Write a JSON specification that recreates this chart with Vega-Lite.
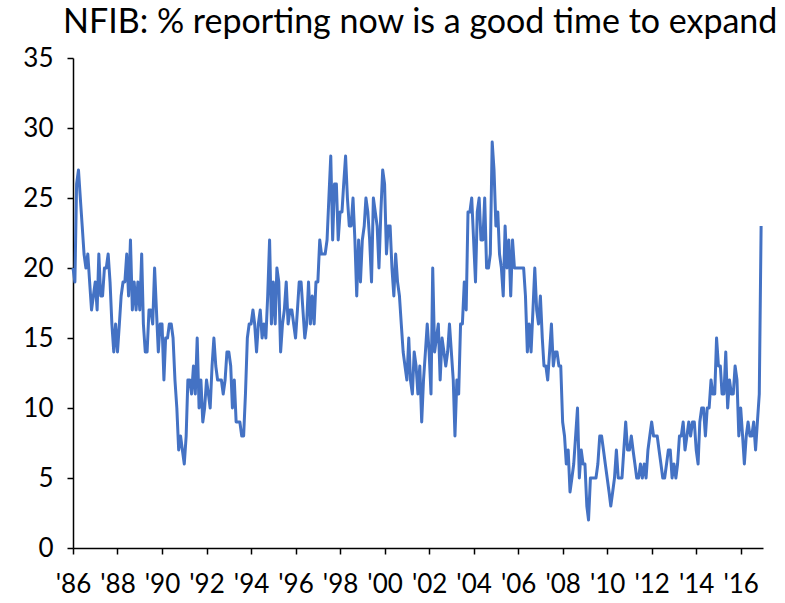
{
 "$schema": "https://vega.github.io/schema/vega-lite/v6.json",
 "width": 690, "height": 490,
 "autosize": "none",
 "padding": {"left": 73, "top": 58, "right": 22, "bottom": 55},
 "background": "white",
 "config": {"view": {"stroke": null}, "font": "Lato"},
 "title": {"text": "NFIB: % reporting now is a good time to expand", "anchor": "start", "frame": "group", "fontSize": 34, "fontWeight": "normal", "font": "Lato", "color": "black", "dx": -10, "offset": 5},
 "datasets": {"nfib": [
 {"date":"1986-01","v":20},{"date":"1986-02","v":19},{"date":"1986-03","v":26},{"date":"1986-04","v":27},{"date":"1986-05","v":25},{"date":"1986-06","v":23},{"date":"1986-07","v":21},{"date":"1986-08","v":20},{"date":"1986-09","v":21},{"date":"1986-10","v":19},{"date":"1986-11","v":17},{"date":"1986-12","v":18},
 {"date":"1987-01","v":19},{"date":"1987-02","v":17},{"date":"1987-03","v":21},{"date":"1987-04","v":18},{"date":"1987-05","v":18},{"date":"1987-06","v":20},{"date":"1987-07","v":20},{"date":"1987-08","v":21},{"date":"1987-09","v":19},{"date":"1987-10","v":16},{"date":"1987-11","v":14},{"date":"1987-12","v":16},
 {"date":"1988-01","v":14},{"date":"1988-02","v":16},{"date":"1988-03","v":18},{"date":"1988-04","v":19},{"date":"1988-05","v":19},{"date":"1988-06","v":21},{"date":"1988-07","v":18},{"date":"1988-08","v":22},{"date":"1988-09","v":17},{"date":"1988-10","v":19},{"date":"1988-11","v":17},{"date":"1988-12","v":19},
 {"date":"1989-01","v":17},{"date":"1989-02","v":21},{"date":"1989-03","v":16},{"date":"1989-04","v":14},{"date":"1989-05","v":14},{"date":"1989-06","v":17},{"date":"1989-07","v":17},{"date":"1989-08","v":16},{"date":"1989-09","v":20},{"date":"1989-10","v":17},{"date":"1989-11","v":14},{"date":"1989-12","v":16},
 {"date":"1990-01","v":16},{"date":"1990-02","v":12},{"date":"1990-03","v":15},{"date":"1990-04","v":15},{"date":"1990-05","v":16},{"date":"1990-06","v":16},{"date":"1990-07","v":15},{"date":"1990-08","v":12},{"date":"1990-09","v":10},{"date":"1990-10","v":7},{"date":"1990-11","v":8},{"date":"1990-12","v":7},
 {"date":"1991-01","v":6},{"date":"1991-02","v":8},{"date":"1991-03","v":12},{"date":"1991-04","v":12},{"date":"1991-05","v":11},{"date":"1991-06","v":13},{"date":"1991-07","v":11},{"date":"1991-08","v":15},{"date":"1991-09","v":10},{"date":"1991-10","v":12},{"date":"1991-11","v":9},{"date":"1991-12","v":10},
 {"date":"1992-01","v":12},{"date":"1992-02","v":11},{"date":"1992-03","v":10},{"date":"1992-04","v":13},{"date":"1992-05","v":15},{"date":"1992-06","v":13},{"date":"1992-07","v":12},{"date":"1992-08","v":12},{"date":"1992-09","v":12},{"date":"1992-10","v":11},{"date":"1992-11","v":12},{"date":"1992-12","v":14},
 {"date":"1993-01","v":14},{"date":"1993-02","v":13},{"date":"1993-03","v":10},{"date":"1993-04","v":12},{"date":"1993-05","v":9},{"date":"1993-06","v":9},{"date":"1993-07","v":9},{"date":"1993-08","v":8},{"date":"1993-09","v":8},{"date":"1993-10","v":11},{"date":"1993-11","v":15},{"date":"1993-12","v":16},
 {"date":"1994-01","v":16},{"date":"1994-02","v":17},{"date":"1994-03","v":16},{"date":"1994-04","v":14},{"date":"1994-05","v":16},{"date":"1994-06","v":17},{"date":"1994-07","v":15},{"date":"1994-08","v":16},{"date":"1994-09","v":15},{"date":"1994-10","v":18},{"date":"1994-11","v":22},{"date":"1994-12","v":16},
 {"date":"1995-01","v":19},{"date":"1995-02","v":16},{"date":"1995-03","v":20},{"date":"1995-04","v":19},{"date":"1995-05","v":14},{"date":"1995-06","v":16},{"date":"1995-07","v":17},{"date":"1995-08","v":19},{"date":"1995-09","v":16},{"date":"1995-10","v":17},{"date":"1995-11","v":17},{"date":"1995-12","v":16},
 {"date":"1996-01","v":15},{"date":"1996-02","v":17},{"date":"1996-03","v":19},{"date":"1996-04","v":19},{"date":"1996-05","v":17},{"date":"1996-06","v":15},{"date":"1996-07","v":16},{"date":"1996-08","v":19},{"date":"1996-09","v":16},{"date":"1996-10","v":18},{"date":"1996-11","v":16},{"date":"1996-12","v":19},
 {"date":"1997-01","v":19},{"date":"1997-02","v":22},{"date":"1997-03","v":21},{"date":"1997-04","v":21},{"date":"1997-05","v":21},{"date":"1997-06","v":22},{"date":"1997-07","v":25},{"date":"1997-08","v":28},{"date":"1997-09","v":22},{"date":"1997-10","v":26},{"date":"1997-11","v":26},{"date":"1997-12","v":22},
 {"date":"1998-01","v":24},{"date":"1998-02","v":24},{"date":"1998-03","v":26},{"date":"1998-04","v":28},{"date":"1998-05","v":25},{"date":"1998-06","v":23},{"date":"1998-07","v":23},{"date":"1998-08","v":25},{"date":"1998-09","v":22},{"date":"1998-10","v":18},{"date":"1998-11","v":22},{"date":"1998-12","v":19},
 {"date":"1999-01","v":22},{"date":"1999-02","v":23},{"date":"1999-03","v":25},{"date":"1999-04","v":24},{"date":"1999-05","v":22},{"date":"1999-06","v":19},{"date":"1999-07","v":25},{"date":"1999-08","v":24},{"date":"1999-09","v":23},{"date":"1999-10","v":20},{"date":"1999-11","v":24},{"date":"1999-12","v":27},
 {"date":"2000-01","v":26},{"date":"2000-02","v":21},{"date":"2000-03","v":23},{"date":"2000-04","v":23},{"date":"2000-05","v":20},{"date":"2000-06","v":18},{"date":"2000-07","v":21},{"date":"2000-08","v":19},{"date":"2000-09","v":18},{"date":"2000-10","v":16},{"date":"2000-11","v":14},{"date":"2000-12","v":13},
 {"date":"2001-01","v":12},{"date":"2001-02","v":15},{"date":"2001-03","v":12},{"date":"2001-04","v":11},{"date":"2001-05","v":14},{"date":"2001-06","v":13},{"date":"2001-07","v":11},{"date":"2001-08","v":13},{"date":"2001-09","v":9},{"date":"2001-10","v":12},{"date":"2001-11","v":14},{"date":"2001-12","v":16},
 {"date":"2002-01","v":14},{"date":"2002-02","v":11},{"date":"2002-03","v":20},{"date":"2002-04","v":14},{"date":"2002-05","v":15},{"date":"2002-06","v":16},{"date":"2002-07","v":12},{"date":"2002-08","v":15},{"date":"2002-09","v":14},{"date":"2002-10","v":13},{"date":"2002-11","v":14},{"date":"2002-12","v":16},
 {"date":"2003-01","v":14},{"date":"2003-02","v":12},{"date":"2003-03","v":8},{"date":"2003-04","v":12},{"date":"2003-05","v":11},{"date":"2003-06","v":16},{"date":"2003-07","v":16},{"date":"2003-08","v":19},{"date":"2003-09","v":17},{"date":"2003-10","v":24},{"date":"2003-11","v":24},{"date":"2003-12","v":25},
 {"date":"2004-01","v":22},{"date":"2004-02","v":19},{"date":"2004-03","v":24},{"date":"2004-04","v":25},{"date":"2004-05","v":22},{"date":"2004-06","v":22},{"date":"2004-07","v":25},{"date":"2004-08","v":20},{"date":"2004-09","v":20},{"date":"2004-10","v":21},{"date":"2004-11","v":29},{"date":"2004-12","v":27},
 {"date":"2005-01","v":23},{"date":"2005-02","v":24},{"date":"2005-03","v":21},{"date":"2005-04","v":20},{"date":"2005-05","v":18},{"date":"2005-06","v":23},{"date":"2005-07","v":20},{"date":"2005-08","v":22},{"date":"2005-09","v":18},{"date":"2005-10","v":22},{"date":"2005-11","v":20},{"date":"2005-12","v":20},
 {"date":"2006-01","v":20},{"date":"2006-02","v":20},{"date":"2006-03","v":20},{"date":"2006-04","v":20},{"date":"2006-05","v":18},{"date":"2006-06","v":14},{"date":"2006-07","v":16},{"date":"2006-08","v":14},{"date":"2006-09","v":17},{"date":"2006-10","v":20},{"date":"2006-11","v":17},{"date":"2006-12","v":16},
 {"date":"2007-01","v":18},{"date":"2007-02","v":15},{"date":"2007-03","v":13},{"date":"2007-04","v":13},{"date":"2007-05","v":12},{"date":"2007-06","v":14},{"date":"2007-07","v":16},{"date":"2007-08","v":13},{"date":"2007-09","v":14},{"date":"2007-10","v":14},{"date":"2007-11","v":13},{"date":"2007-12","v":13},
 {"date":"2008-01","v":9},{"date":"2008-02","v":8},{"date":"2008-03","v":6},{"date":"2008-04","v":7},{"date":"2008-05","v":4},{"date":"2008-06","v":5},{"date":"2008-07","v":6},{"date":"2008-08","v":8},{"date":"2008-09","v":10},{"date":"2008-10","v":5},{"date":"2008-11","v":7},{"date":"2008-12","v":6},
 {"date":"2009-01","v":6},{"date":"2009-02","v":3},{"date":"2009-03","v":2},{"date":"2009-04","v":5},{"date":"2009-05","v":5},{"date":"2009-06","v":5},{"date":"2009-07","v":5},{"date":"2009-08","v":6},{"date":"2009-09","v":8},{"date":"2009-10","v":8},{"date":"2009-11","v":7},{"date":"2009-12","v":6},
 {"date":"2010-01","v":5},{"date":"2010-02","v":4},{"date":"2010-03","v":3},{"date":"2010-04","v":4},{"date":"2010-05","v":5},{"date":"2010-06","v":7},{"date":"2010-07","v":5},{"date":"2010-08","v":5},{"date":"2010-09","v":5},{"date":"2010-10","v":7},{"date":"2010-11","v":9},{"date":"2010-12","v":7},
 {"date":"2011-01","v":7},{"date":"2011-02","v":8},{"date":"2011-03","v":7},{"date":"2011-04","v":6},{"date":"2011-05","v":5},{"date":"2011-06","v":5},{"date":"2011-07","v":6},{"date":"2011-08","v":5},{"date":"2011-09","v":6},{"date":"2011-10","v":5},{"date":"2011-11","v":7},{"date":"2011-12","v":8},
 {"date":"2012-01","v":9},{"date":"2012-02","v":8},{"date":"2012-03","v":8},{"date":"2012-04","v":8},{"date":"2012-05","v":7},{"date":"2012-06","v":6},{"date":"2012-07","v":5},{"date":"2012-08","v":5},{"date":"2012-09","v":6},{"date":"2012-10","v":7},{"date":"2012-11","v":7},{"date":"2012-12","v":5},
 {"date":"2013-01","v":6},{"date":"2013-02","v":5},{"date":"2013-03","v":6},{"date":"2013-04","v":8},{"date":"2013-05","v":8},{"date":"2013-06","v":9},{"date":"2013-07","v":7},{"date":"2013-08","v":8},{"date":"2013-09","v":9},{"date":"2013-10","v":8},{"date":"2013-11","v":9},{"date":"2013-12","v":9},
 {"date":"2014-01","v":7},{"date":"2014-02","v":6},{"date":"2014-03","v":9},{"date":"2014-04","v":10},{"date":"2014-05","v":10},{"date":"2014-06","v":8},{"date":"2014-07","v":10},{"date":"2014-08","v":10},{"date":"2014-09","v":12},{"date":"2014-10","v":11},{"date":"2014-11","v":11},{"date":"2014-12","v":15},
 {"date":"2015-01","v":13},{"date":"2015-02","v":13},{"date":"2015-03","v":11},{"date":"2015-04","v":11},{"date":"2015-05","v":14},{"date":"2015-06","v":10},{"date":"2015-07","v":12},{"date":"2015-08","v":11},{"date":"2015-09","v":11},{"date":"2015-10","v":13},{"date":"2015-11","v":12},{"date":"2015-12","v":8},
 {"date":"2016-01","v":10},{"date":"2016-02","v":8},{"date":"2016-03","v":6},{"date":"2016-04","v":8},{"date":"2016-05","v":9},{"date":"2016-06","v":8},{"date":"2016-07","v":8},{"date":"2016-08","v":9},{"date":"2016-09","v":7},{"date":"2016-10","v":9},{"date":"2016-11","v":11},{"date":"2016-12","v":23}
 ]},
 "data": {"name": "nfib"},
 "mark": {"type": "line", "color": "#4472C4", "strokeWidth": 3, "strokeJoin": "round"},
 "encoding": {
  "x": {"field": "date", "type": "temporal",
   "scale": {"type": "utc", "domain": [{"year": 1986, "month": 1, "date": 1, "utc": true}, {"year": 2017, "month": 1, "date": 1, "utc": true}]},
   "axis": {"title": null, "grid": false, "tickCount": {"interval": "year", "step": 2}, "labelExpr": "\"'\" + utcFormat(datum.value, '%y')", "labelFont": "Lato", "labelFontSize": 26, "labelColor": "black", "labelPadding": 17, "labelFlush": false, "labelOverlap": false, "domainColor": "black", "domainWidth": 1.5, "tickColor": "black", "tickWidth": 1.5, "tickSize": 6}},
  "y": {"field": "v", "type": "quantitative",
   "scale": {"domain": [0, 35], "nice": false},
   "axis": {"title": null, "grid": false, "values": [0, 5, 10, 15, 20, 25, 30, 35], "labelFont": "Lato", "labelFontSize": 26, "labelColor": "black", "labelPadding": 14, "domainColor": "black", "domainWidth": 1.5, "tickColor": "black", "tickWidth": 1.5, "tickSize": 6}}
 }
}
